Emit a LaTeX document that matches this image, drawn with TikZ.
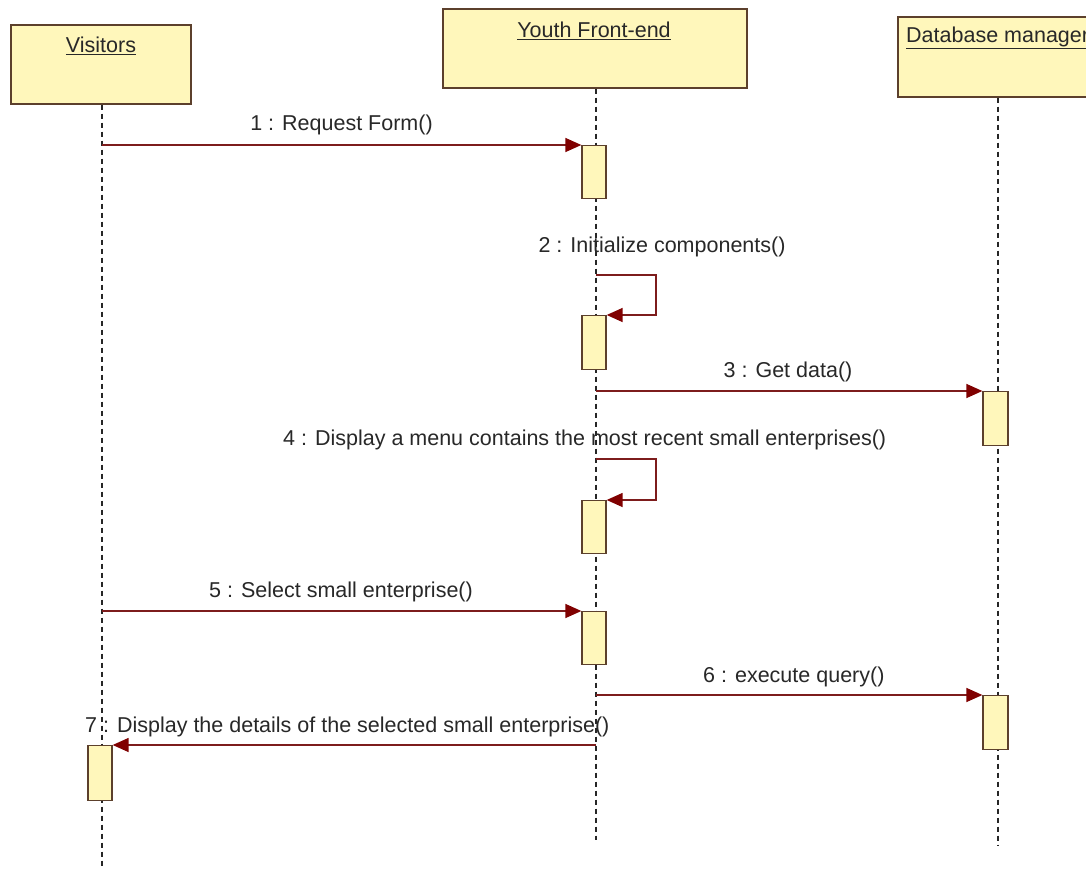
\documentclass[tikz,border=0pt]{standalone}
\usepackage{fontspec}
\setmainfont{Liberation Sans}
\usetikzlibrary{arrows.meta}
\definecolor{boxfill}{RGB}{255,247,187}
\definecolor{boxline}{RGB}{92,64,44}
\definecolor{msgline}{RGB}{125,28,28}
\definecolor{tipfill}{RGB}{128,0,0}
\definecolor{txt}{RGB}{40,40,40}
\tikzset{
  objbox/.style={draw=boxline, line width=1.6pt, fill=boxfill, inner sep=0pt},
  actbox/.style={draw=boxline, line width=1.3pt, fill=boxfill, inner sep=0pt,
                 minimum width=24pt, minimum height=53pt, anchor=north},
  lifeline/.style={draw=black!85, line width=1.5pt, dash pattern=on 5pt off 4pt},
  msg/.style={draw=msgline, line width=1.4pt,
              -{Triangle[length=16pt,width=14pt,fill=tipfill,color=tipfill]}},
  lbl/.style={text=txt, font=\fontsize{21.5}{25}\selectfont, inner sep=0pt},
  head/.style={text=txt, font=\fontsize{21.5}{25}\selectfont, inner sep=0pt}
}
\begin{document}
\begin{tikzpicture}[x=1pt,y=-1pt]
\useasboundingbox (0,0) rectangle (1086,869);
\clip (0,0) rectangle (1086,869);
\fill[white] (0,0) rectangle (1086,869);

% object boxes
\node[objbox, minimum width=180pt, minimum height=79pt, anchor=north west] (vis) at (10,24) {};
\node[objbox, minimum width=304pt, minimum height=79pt, anchor=north west] (yfe) at (442,8) {};
\node[objbox, minimum width=220pt, minimum height=80pt, anchor=north west] (dbm) at (897,16) {};
\node[head] (visT) at (101,46) {\underline{Visitors}};
\node[head] (yfeT) at (594,31) {\underline{Youth Front-end}};
\node[head, anchor=west] (dbmT) at (906,38) {\underline{Database manager}};

% lifelines
\coordinate (visEnd) at (102,866);
\coordinate (yfeEnd) at (596,840);
\coordinate (dbmEnd) at (998,846);
\draw[lifeline] (vis.south -| visEnd) -- (visEnd);
\draw[lifeline] (yfe.south -| yfeEnd) -- (yfeEnd);
\draw[lifeline] (dbm.south -| dbmEnd) -- (dbmEnd);

% activation bars
\node[actbox] (a1) at (594,145) {};
\node[actbox, minimum height=54pt] (a2) at (594,315) {};
\node[actbox] (a3) at (594,500) {};
\node[actbox] (a4) at (594,611) {};
\node[actbox, minimum width=25pt, minimum height=54pt] (d1) at (995.5,391) {};
\node[actbox, minimum width=25pt, minimum height=54pt] (d2) at (995.5,695) {};
\node[actbox, minimum height=55pt] (v1) at (100,745) {};

% message start points on the lifelines
\coordinate (m1) at (102,145);
\coordinate (m2) at (596,275);
\coordinate (m3) at (596,391);
\coordinate (m4) at (596,459);
\coordinate (m5) at (102,611);
\coordinate (m6) at (596,695);
\coordinate (m7) at (596,745);

% messages
\draw[msg] (m1) -- (a1.north west);
\draw[msg] (m2) -- ++(60,0) |- (a2.north east);
\draw[msg] (m3) -- (d1.north west);
\draw[msg] (m4) -- ++(60,0) |- (a3.north east);
\draw[msg] (m5) -- (a4.north west);
\draw[msg] (m6) -- (d2.north west);
\draw[msg] (m7) -- (v1.north east);

% message labels
\node[lbl] (l1) at (341.5,125) {1 : Request Form()};
\node[lbl] (l2) at (662,247) {2 : Initialize components()};
\node[lbl] (l3) at (788,372) {3 : Get data()};
\node[lbl, anchor=west] (l4) at (283,440) {4 : Display a menu contains the most recent small enterprises()};
\node[lbl] (l5) at (341,592) {5 : Select small enterprise()};
\node[lbl, anchor=west] (l6) at (703,677) {6 : execute query()};
\node[lbl, anchor=west] (l7) at (85,727) {7 : Display the details of the selected small enterprise()};
\end{tikzpicture}
\end{document}
